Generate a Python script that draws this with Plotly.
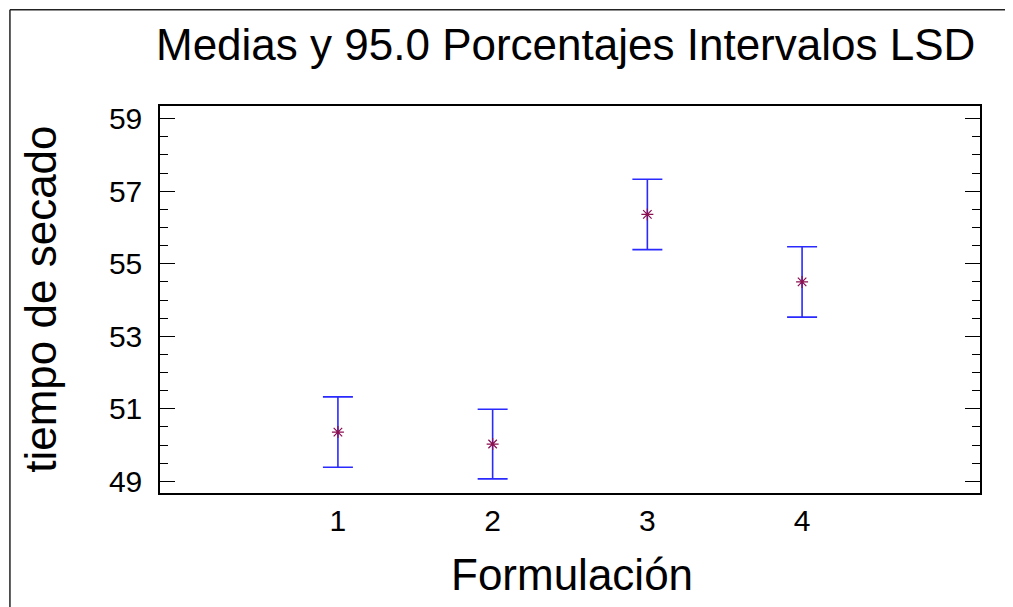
import plotly.graph_objects as go

# Data
formulacion = [1, 2, 3, 4]
medias = [50.36, 50.03, 56.36, 54.50]
lsd_half = [0.97, 0.96, 0.97, 0.97]
y_tickvals = [49, 51, 53, 55, 57, 59]
x_tickvals = [1, 2, 3, 4]

FONT = "Liberation Sans, Arial, sans-serif"

fig = go.Figure()
fig.add_trace(go.Scatter(
    x=formulacion, y=medias, mode="markers",
    marker=dict(symbol="asterisk-open", size=10, color="#8a1050",
                line=dict(color="#8a1050", width=1.2)),
    error_y=dict(type="data", array=lsd_half, visible=True,
                 color="#2a2aff", thickness=1.6, width=15),
    showlegend=False,
))

# the page body adds an 8px offset; figure is sized to fit the window
fig.update_layout(
    width=1005, height=599,
    margin=dict(l=152, r=33, t=98, b=114),
    paper_bgcolor="white", plot_bgcolor="white",
    font=dict(family=FONT, color="black"),
    showlegend=False,
)
fig.update_xaxes(
    range=[-0.15, 5.15], tickvals=x_tickvals, ticks="",
    showgrid=False, zeroline=False,
    showline=True, linecolor="black", linewidth=1.5, mirror=True,
    tickfont=dict(size=30, family=FONT, color="black"),
    ticklabelstandoff=0,
)
fig.update_yaxes(
    range=[48.68, 59.35], tickvals=y_tickvals, ticks="inside",
    ticklen=15, tickwidth=1.2, tickcolor="black",
    minor=dict(dtick=0.5, ticks="inside", ticklen=8, tickwidth=1.2,
               tickcolor="black", showgrid=False),
    showgrid=False, zeroline=False,
    showline=True, linecolor="black", linewidth=1.5, mirror="ticks",
    tickfont=dict(size=30, family=FONT, color="black"),
    ticklabelstandoff=10,
)

fig.add_annotation(text="Medias y 95.0 Porcentajes Intervalos LSD",
                   xref="paper", yref="paper", x=0.495, y=1.16,
                   xanchor="center", yanchor="middle", showarrow=False,
                   font=dict(size=44, family=FONT, color="black"))
fig.add_annotation(text="Formulación",
                   xref="paper", yref="paper", x=0.503, y=-0.21,
                   xanchor="center", yanchor="middle", showarrow=False,
                   font=dict(size=44, family=FONT, color="black"))
fig.add_annotation(text="tiempo de secado", textangle=-90,
                   xref="paper", yref="paper", x=-0.146, y=0.5,
                   xanchor="center", yanchor="middle", showarrow=False,
                   font=dict(size=44, family=FONT, color="black"))

# outer frame: only top and left edges are visible in the reference
frame = dict(color="#222222", width=1.5)
fig.add_shape(type="line", xref="paper", yref="paper",
              x0=-0.183, x1=1.2, y0=1.249, y1=1.249, line=frame, layer="below")
fig.add_shape(type="line", xref="paper", yref="paper",
              x0=-0.183, x1=-0.183, y0=-0.4, y1=1.249, line=frame, layer="below")

fig.write_html("out.html")
